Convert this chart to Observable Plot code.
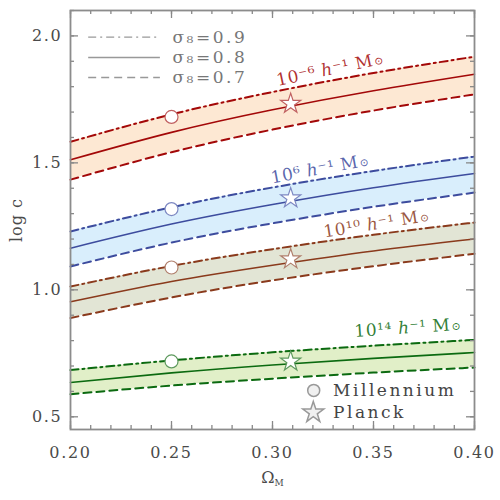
<!DOCTYPE html>
<html><head><meta charset="utf-8">
<script src="https://cdn.jsdelivr.net/npm/d3@7"></script>
<script src="https://cdn.jsdelivr.net/npm/@observablehq/plot@0.6"></script>
<style>body{margin:0;background:#fff}</style>
</head><body><div id="chart"></div>
<script>
// Ω_M sample points
const omegaM = [0.20, 0.25, 0.30, 0.35, 0.40];
const sigma8Labels = ["σ₈=0.9", "σ₈=0.8", "σ₈=0.7"];
const massLabels = ["10⁻⁶ ℎ⁻¹ M⊙", "10⁶ ℎ⁻¹ M⊙", "10¹⁰ ℎ⁻¹ M⊙", "10¹⁴ ℎ⁻¹ M⊙"];
// log c for each halo mass and sigma8
const m6neg_s09 = [1.583, 1.691, 1.779, 1.854, 1.918];
const m6neg_s08 = [1.512, 1.620, 1.709, 1.784, 1.849];
const m6neg_s07 = [1.434, 1.542, 1.631, 1.706, 1.770];
const m6_s09 = [1.230, 1.325, 1.403, 1.468, 1.525];
const m6_s08 = [1.164, 1.259, 1.336, 1.402, 1.458];
const m6_s07 = [1.092, 1.186, 1.262, 1.327, 1.383];
const m10_s09 = [1.013, 1.094, 1.160, 1.217, 1.265];
const m10_s08 = [0.953, 1.033, 1.097, 1.153, 1.200];
const m10_s07 = [0.889, 0.970, 1.037, 1.093, 1.142];
const m14_s09 = [0.684, 0.722, 0.754, 0.780, 0.803];
const m14_s08 = [0.635, 0.673, 0.704, 0.730, 0.753];
const m14_s07 = [0.589, 0.623, 0.650, 0.674, 0.694];
// Millennium (Ωm=0.25, σ8=0.9) and Planck (Ωm≈0.309, σ8≈0.816) points
const millenniumX = 0.25;
const millenniumY = [1.681, 1.318, 1.088, 0.718];
const planckX = 0.309;
const planckY = [1.733, 1.361, 1.121, 0.718];
// label anchors (data coords) and tilt
const labelX = [0.3285, 0.3235, 0.3515, 0.367];
const labelY = [1.868, 1.476, 1.260, 0.850];
const labelRotate = [-12, -10.5, -9, -4];
// ticks
const xTicks = [0.20, 0.25, 0.30, 0.35, 0.40];
const xMinor = d3.range(0, 21).map(i => 0.20 + i * 0.01);
const yTicks = [0.5, 1.0, 1.5, 2.0];
const yMinor = d3.range(0, 17).map(i => 0.5 + i * 0.1);

const lineColors = ["#a30808", "#3d4c9e", "#8a3a1c", "#0b6a10"];
const fillColors = ["#fde8d3", "#d9eefc", "#e2e5d5", "#e1efc8"];
const markerColors = ["#c06060", "#7d88c2", "#b07f6c", "#5e9a5e"];

const hi = [m6neg_s09, m6_s09, m10_s09, m14_s09];
const mid = [m6neg_s08, m6_s08, m10_s08, m14_s08];
const lo = [m6neg_s07, m6_s07, m10_s07, m14_s07];

const W = 500, H = 500, mL = 70, mR = 26, mT = 10, mB = 71;
const pw = W - mL - mR, ph = H - mT - mB;
const dashDot = "8,4,2,4", dashed = "8,5";

const marks = [];
hi.forEach((h, i) => {
  const rows = omegaM.map((x, j) => ({x, hi: h[j], mid: mid[i][j], lo: lo[i][j]}));
  marks.push(Plot.areaY(rows, {x: "x", y1: "lo", y2: "hi", fill: fillColors[i], curve: "natural"}));
  marks.push(Plot.line(rows, {x: "x", y: "hi", stroke: lineColors[i], strokeWidth: 2, strokeDasharray: dashDot, curve: "natural"}));
  marks.push(Plot.line(rows, {x: "x", y: "mid", stroke: lineColors[i], strokeWidth: 1.6, curve: "natural"}));
  marks.push(Plot.line(rows, {x: "x", y: "lo", stroke: lineColors[i], strokeWidth: 2, strokeDasharray: dashed, curve: "natural"}));
});
const pts = millenniumY.map((y, i) => ({x: millenniumX, y, c: markerColors[i]}));
const stars = planckY.map((y, i) => ({x: planckX, y, c: markerColors[i]}));
marks.push(Plot.dot(pts, {x: "x", y: "y", r: 6.5, fill: "white", stroke: d => d.c, strokeWidth: 1.2}));
marks.push(Plot.dot(stars, {x: "x", y: "y", r: 6.3, symbol: "star", fill: "white", stroke: d => d.c, strokeWidth: 1.2}));
const labs = massLabels.map((t, i) => ({t, x: labelX[i], y: labelY[i], r: labelRotate[i], c: lineColors[i]}));
labs.forEach(d => marks.push(Plot.text([d], {x: "x", y: "y", text: "t", rotate: d.r, fill: d.c, fillOpacity: 0.85, fontSize: 17})));

// sigma8 legend (top-left)
const legY = [1.995, 1.915, 1.836];
const legDash = [dashDot, null, dashed];
sigma8Labels.forEach((t, i) => {
  marks.push(Plot.ruleY([legY[i]], {x1: 0.209, x2: 0.2445, stroke: "#999", strokeWidth: 1.4, strokeDasharray: legDash[i]}));
  marks.push(Plot.text([t], {x: 0.2505, y: legY[i], text: d => d, textAnchor: "start", fill: "#777", fontSize: 17}));
});
// symbol legend
marks.push(Plot.dot([0], {x: 0.3204, y: 0.604, r: 6, fill: "#f0f0f0", stroke: "#999"}));
marks.push(Plot.dot([0], {x: 0.3202, y: 0.517, r: 6.6, symbol: "star", fill: "#f0f0f0", stroke: "#999"}));
marks.push(Plot.text(["Millennium", "Planck"], {x: 0.330, y: (d, i) => [0.604, 0.517][i], text: d => d, textAnchor: "start", fill: "#444", fontSize: 17}));

// inward ticks on all four sides
const tickStyle = {stroke: "#888", strokeWidth: 1.3};
marks.push(Plot.tickX(xTicks, {x: d => d, insetTop: ph - 8, ...tickStyle}));
marks.push(Plot.tickX(xTicks, {x: d => d, insetBottom: ph - 8, ...tickStyle}));
marks.push(Plot.tickX(xMinor, {x: d => d, insetTop: ph - 4, ...tickStyle}));
marks.push(Plot.tickX(xMinor, {x: d => d, insetBottom: ph - 4, ...tickStyle}));
marks.push(Plot.tickY(yTicks, {y: d => d, insetRight: pw - 8, ...tickStyle}));
marks.push(Plot.tickY(yTicks, {y: d => d, insetLeft: pw - 8, ...tickStyle}));
marks.push(Plot.tickY(yMinor, {y: d => d, insetRight: pw - 4, ...tickStyle}));
marks.push(Plot.tickY(yMinor, {y: d => d, insetLeft: pw - 4, ...tickStyle}));
marks.push(Plot.frame({stroke: "#8c8c8c", strokeWidth: 1.8}));

const chart = Plot.plot({
  width: W, height: H,
  marginLeft: mL, marginRight: mR, marginTop: mT, marginBottom: mB,
  style: {fontFamily: "DejaVu Serif", fontSize: "16px", color: "#4a4a4a", background: "white"},
  x: {domain: [0.2, 0.4], ticks: xTicks, tickSize: 0, tickPadding: 17, tickFormat: d3.format(".2f"), label: "ΩM", labelAnchor: "center", labelOffset: 53},
  y: {domain: [0.45, 2.1], ticks: yTicks, tickSize: 0, tickPadding: 8, tickFormat: d3.format(".1f"), label: "log c", labelAnchor: "center", labelOffset: 60},
  marks
});
document.getElementById("chart").appendChild(chart);
const svgEl = chart.tagName.toLowerCase() === "svg" ? chart : chart.querySelector("svg");
const svg = d3.select(svgEl);
// strip automatic label arrows
svg.selectAll("text").each(function() {
  const s = this.textContent;
  if (/[→↑←↓]/.test(s) && !this.querySelector("tspan")) this.textContent = s.replace(/\s*[→↑←↓]\s*/g, "");
});
// letter spacing to mimic the wide plotting font
svg.selectAll("text").each(function() {
  const s = this.textContent;
  let ls = null;
  if (s === "Millennium" || s === "Planck") ls = "2.5px";
  else if (s.startsWith("σ")) ls = "2.5px";
  else if (s.includes("⊙")) ls = "0.6px";
  else if (/^\d\.\d+$/.test(s)) ls = "1.7px";
  else if (s === "log c") ls = "1px";
  if (ls) this.style.letterSpacing = ls;
});
svg.selectAll("text").filter(function() { return this.textContent === "ΩM"; }).each(function() {
  const t = d3.select(this);
  t.text(null);
  t.append("tspan").text("Ω");
  t.append("tspan").attr("font-size", "9px").attr("dy", "0.35em").text("M");
});
// italic h and small sun symbol in mass labels
svg.selectAll("text").filter(function() { return this.textContent.includes("⊙") && !this.querySelector("tspan"); }).each(function() {
  const s = this.textContent;
  const t = d3.select(this);
  t.text(null);
  const parts = s.split(/(ℎ|⊙)/);
  parts.forEach(p => {
    if (!p) return;
    if (p === "ℎ") t.append("tspan").attr("font-style", "italic").text("h");
    else if (p === "⊙") t.append("tspan").attr("font-size", "11px").attr("dx", "1").text("⊙");
    else t.append("tspan").text(p);
  });
});
</script></body></html>
